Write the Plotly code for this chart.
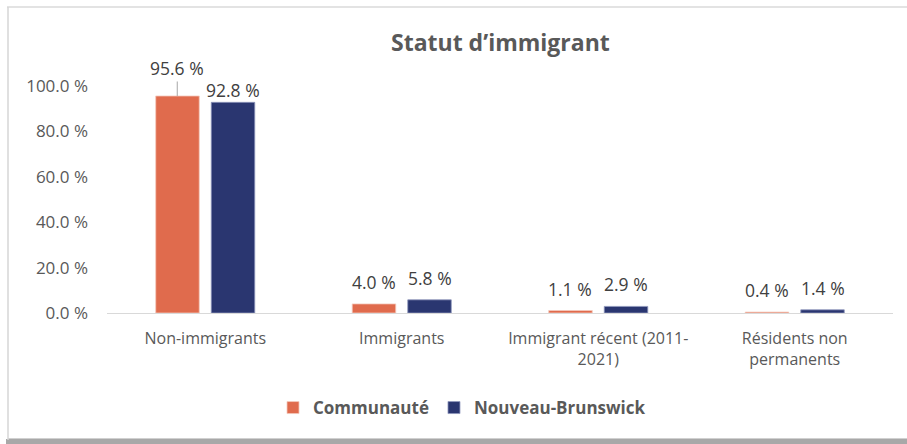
import plotly.graph_objects as go

categories = ["Non-immigrants", "Immigrants", "Immigrant récent (2011-<br>2021)", "Résidents non<br>permanents"]
communaute = [95.6, 4.0, 1.1, 0.4]
nouveau_brunswick = [92.8, 5.8, 2.9, 1.4]
series_names = ["Communauté", "Nouveau-Brunswick"]
tick_vals = [0, 20, 40, 60, 80, 100]
tick_text = ["0.0 %", "20.0 %", "40.0 %", "60.0 %", "80.0 %", "100.0 %"]

ORANGE = "#E06B4D"
NAVY = "#2A3670"
GRAY = "#595959"
FONT = "Open Sans"

W, H = 907, 444
ML, MR, MT, MB = 107, 14, 86, 131
PW, PH = W - ML - MR, H - MT - MB

def px_x(x):
    return (x - ML) / PW

def px_y(y):
    return (H - MB - y) / PH

fig = go.Figure()
fig.add_trace(go.Bar(x=categories, y=communaute, name=series_names[0],
                     marker=dict(color=ORANGE, line=dict(color="#F4C9BC", width=0.8))))
fig.add_trace(go.Bar(x=categories, y=nouveau_brunswick, name=series_names[1],
                     marker=dict(color=NAVY, line=dict(color="#8F97BC", width=0.8))))

annotations = []
offsets = [-28, 28]
for si, vals in enumerate([communaute, nouveau_brunswick]):
    for ci, v in enumerate(vals):
        txt = f"{v:.1f} %"
        base = dict(x=categories[ci], y=v, text=txt, xshift=offsets[si],
                    font=dict(family=FONT, size=17.5, color="#404040"))
        if ci == 0 and si == 0:
            base.update(showarrow=True, arrowhead=0, arrowwidth=1, arrowcolor="#A6A6A6",
                        ax=0, ay=-28, yanchor="middle", standoff=0)
        elif ci == 0 and si == 1:
            base.update(showarrow=False, yanchor="middle", yshift=12)
        else:
            base.update(showarrow=False, yanchor="middle", yshift=22)
        annotations.append(base)

annotations.append(dict(x=0.5, xref="paper", y=px_y(42), yref="paper", text="<b>Statut d’immigrant</b>",
                        showarrow=False, xanchor="center", yanchor="middle",
                        font=dict(family=FONT, size=23, color=GRAY)))

shapes = [
    # bottom shadow band
    dict(type="rect", xref="paper", yref="paper", x0=px_x(6), x1=px_x(907), y0=px_y(439), y1=px_y(444),
         fillcolor="#A8A8A8", line=dict(width=0), layer="below"),
    dict(type="line", xref="paper", yref="paper", x0=px_x(8), x1=px_x(907), y0=px_y(438.5), y1=px_y(438.5),
         line=dict(color="#D0D0D0", width=1), layer="below"),
    # top border
    dict(type="line", xref="paper", yref="paper", x0=px_x(7), x1=px_x(907), y0=px_y(7), y1=px_y(7),
         line=dict(color="#DADADA", width=1.5), layer="below"),
    # left border
    dict(type="line", xref="paper", yref="paper", x0=px_x(8), x1=px_x(8), y0=px_y(7), y1=px_y(440),
         line=dict(color="#D6D6D6", width=1.5), layer="below"),
]

fig.update_layout(
    width=W, height=H,
    margin=dict(l=ML, r=MR, t=MT, b=MB),
    paper_bgcolor="white", plot_bgcolor="rgba(0,0,0,0)",
    barmode="group", bargap=0.435, bargroupgap=0.216,
    showlegend=True,
    legend=dict(orientation="h", x=0.5 + (462 - (ML + PW / 2)) / PW, xanchor="center",
                y=px_y(408), yanchor="middle",
                font=dict(family=FONT, size=17, color=GRAY, weight="bold"),
                itemwidth=30, bgcolor="rgba(0,0,0,0)"),
    xaxis=dict(showline=True, linecolor="#D9D9D9", linewidth=1, ticks="",
               ticklabelstandoff=11,
               tickfont=dict(family=FONT, size=16, color=GRAY), showgrid=False),
    yaxis=dict(range=[0, 100], tickvals=tick_vals, ticktext=tick_text, showgrid=False,
               zeroline=False, showline=False, ticks="", ticklabelstandoff=18,
               tickfont=dict(family=FONT, size=17, color=GRAY)),
    annotations=annotations,
    shapes=shapes,
)

fig.write_html("out.html")
